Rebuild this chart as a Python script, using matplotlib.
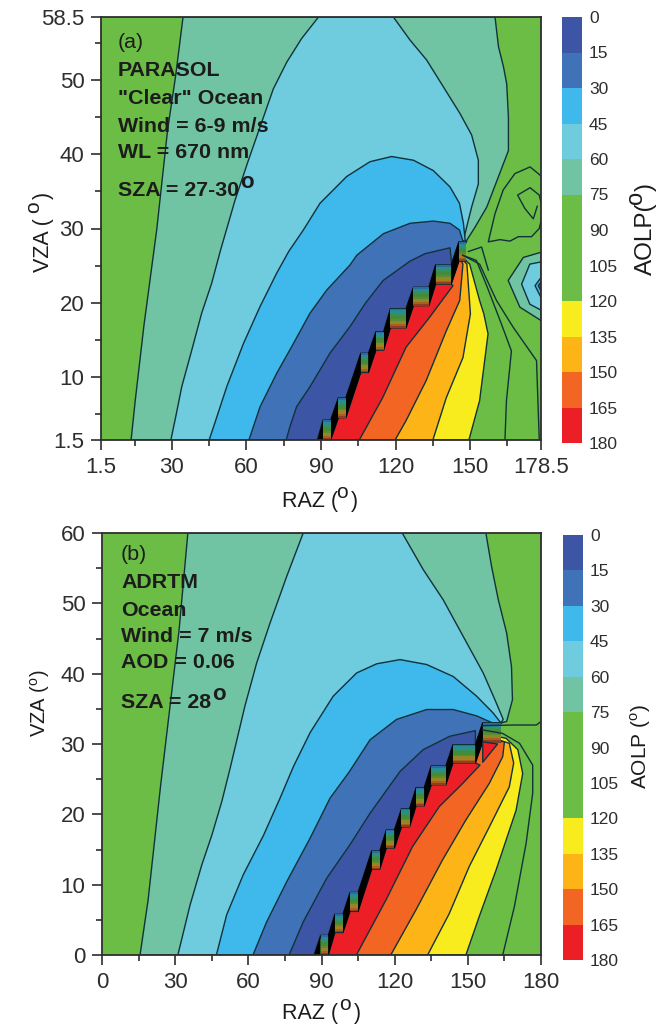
import matplotlib
matplotlib.use('Agg')
import matplotlib.pyplot as plt

W, H = 660, 1027

plt.rcParams['font.family'] = ['Liberation Sans', 'DejaVu Sans']
plt.rcParams['mathtext.fontset'] = 'custom'
plt.rcParams['mathtext.rm'] = 'Liberation Sans'

# colours of the 15 degree AOLP bins
levels = [0, 15, 30, 45, 60, 75, 90, 105, 120, 135, 150, 165, 180]
colors = ['#3d55a5', '#4072b8', '#3fb8ec', '#6fcbde', '#70c4a4', '#6cbd45', '#6cbd45',
          '#6cbd45', '#f8ec1e', '#fdb416', '#f26522', '#ed1f26']
# the same bins where the contour lines pile up and darken them
step_cols = ['#2a6a9c', '#258a9e', '#2b8f86', '#378f5c', '#3f8c3f', '#4a8a35', '#5f8a30', '#8a8a28', '#a87f20',
             '#a85f20', '#8f3f1c']
line_col = '#12323a'

# panel (a), contour lines as (RAZ, VZA)
a_teal_left = [(13.6, 1.5), (15.3, 6.9), (18.8, 17), (23.9, 29.8), (28.3, 43.3), (31.5, 50.5), (34.5, 58.5)]
a_teal_right = [(160, 58.5), (161.4, 54.5), (163.4, 51.8), (164.7, 49.5), (165.4, 45), (165.4, 40.5), (161.4, 37),
                (156.7, 32.9), (152, 30.2), (148.6, 28.4)]
a_lb_left = [(29.6, 1.5), (31.6, 4.7), (34, 8.7), (38, 13.6), (42, 18.6), (46, 22.6), (49.6, 27.1), (55.4, 33.8),
             (60.8, 39.2), (65.5, 43.7), (70.8, 48.8), (76.2, 52.4), (82.2, 55.6), (89, 58.5)]
a_lb_right = [(119.1, 58.5), (125.8, 55.4), (132.5, 52.7), (139.2, 49.1), (145.9, 45.5), (150.6, 42.6), (153.3, 39.2),
              (153.3, 36), (150.6, 32.9), (148.6, 30.2), (147.3, 28.4)]
a_blue = [(45, 1.5), (47.3, 3.8), (52.1, 8.7), (58.8, 14.5), (65.5, 19.5), (72.2, 24), (77, 26.9), (82.9, 29.8),
          (89.6, 33.4), (100.3, 37), (109.7, 39), (118.4, 39.7), (127.2, 39.2), (135.2, 37.8), (141.9, 35.6),
          (145.7, 33.4), (147.3, 30.7), (148, 28.4)]
a_mid = [(61, 1.5), (65.5, 6), (72.2, 10.5), (78.9, 14.5), (85.6, 18.6), (92.3, 21.7), (101.7, 25.1), (104.4, 26.4),
         (115.1, 29.3), (125.8, 30.7), (135.2, 31), (141.9, 30.7), (145.7, 29.8), (147, 28.4)]
a_dark = [(76, 1.5), (77.5, 3.3), (80.2, 6), (85.6, 8.7), (93.6, 13.2), (101.7, 16.8), (108, 20), (115, 23),
          (125.8, 25.6), (131.8, 26.6), (141.9, 27.4), (142.6, 25.1)]
a_yellow = [(149.5, 1.5), (153.8, 6.8), (157.2, 15.8), (155.5, 18.5), (153.8, 20.3), (149.8, 25.2), (145.8, 26.4)]
a_lorange = [(135, 1.5), (140.4, 7.2), (147.1, 12.6), (150.1, 18.5), (148.7, 25.2), (145.8, 26.2)]
a_orange = [(119.8, 1.5), (124.2, 4.1), (132.3, 9.5), (140.4, 16.2), (145.8, 20.3), (147.1, 25.2), (145.8, 26.1)]
a_red = [(105.4, 1.5), (114.8, 7.2), (124.2, 14), (133.6, 18), (143.1, 22.3)]
a_green_lines = [
    [(164, 1.5), (164.6, 6.8), (166.6, 13.5), (162.5, 17.2), (157, 22), (152.5, 25.7), (147, 26.4)],
    [(177.8, 1.5), (176.7, 12.2), (167.3, 16.7), (160.6, 20.3), (153.8, 25.2), (147, 26.4)],
    [(149.3, 26.9), (154.6, 27.5), (157.3, 24.4)],
    [(178.5, 37), (178.1, 37.2), (174.1, 38.3), (168, 37.4), (163.3, 35.2), (160, 32), (157.3, 28.2), (162, 28.5),
     (166, 28.3), (169.4, 28.9), (174.7, 28.9), (177.8, 30), (178.5, 31)],
    [(178.5, 33.5), (177.8, 34.5), (174.1, 35.5), (169.1, 34.5), (172, 32.7), (175.4, 31.3), (177, 33)],
]
a_ring_teal = [(178.5, 26.8), (171.4, 26.1), (165.3, 23), (170, 19.4), (178.5, 17.6)]
a_ring_lb = [(178.5, 25.5), (174, 25.2), (170.7, 22.5), (174, 19.8), (178.5, 19)]
a_ring_blue = [(178.5, 23.4), (176.1, 22.3), (178.5, 20.7)]
a_ring_dark = [(178.5, 22.8), (177.4, 22.3), (178.5, 21.6)]
a_rings = [(a_ring_teal, colors[4]), (a_ring_lb, colors[3]), (a_ring_blue, colors[2]), (a_ring_dark, colors[1])]
a_stair_start = (88.5, 1.5)
# left, right, top, bottom of the steps where all the contours collapse
a_steps = [(90.8, 93.9, 4.2, 1.5), (97, 100, 7.2, 4.5), (106, 109.1, 13.2, 10.6), (112.1, 115.2, 16.1, 13.6),
           (117.9, 124.2, 19.2, 16.6), (127.2, 133.4, 22.1, 19.6), (136.1, 142.4, 25.1, 22.5),
           (145.5, 148.5, 28.2, 25.6)]
a_xticks = [1.5, 30, 60, 90, 120, 150, 178.5]
a_xlabels = ['1.5', '30', '60', '90', '120', '150', '178.5']
a_yticks = [1.5, 10, 20, 30, 40, 50, 58.5]
a_ylabels = ['1.5', '10', '20', '30', '40', '50', '58.5']

# panel (b)
b_teal_left = [(15.6, 0), (18.9, 7.8), (24, 24), (31.6, 46.2), (35.2, 60)]
b_teal_right = [(157.4, 60), (159.7, 55.3), (162.5, 50.5), (165.9, 45.8), (167.9, 41), (168.3, 36.3), (165.9, 33.2)]
b_lb_left = [(31.1, 0), (36.1, 7.1), (40.9, 12.8), (45, 17), (49.1, 21.8), (52.5, 26.5), (58.6, 35.4), (63.4, 41.5),
             (68.9, 47.2), (75.7, 53.8), (82.5, 60)]
b_lb_right = [(123.1, 60), (131.7, 54.8), (139.9, 50.5), (148.1, 45.3), (156.3, 40.1), (161.1, 36.3), (164.5, 33.5)]
b_blue = [(46.9, 0), (51.1, 5.7), (57.9, 11.4), (66.2, 17), (73, 22.3), (78.5, 26.8), (85.3, 31.6), (94.8, 36.8),
          (104.4, 40.1), (112.6, 41.4), (122.2, 42), (133.1, 41.3), (144, 39.6), (153.6, 36.8), (160.4, 34.4),
          (163.1, 33.2)]
b_mid = [(61.9, 0), (67.5, 4.7), (75.7, 10.4), (85.3, 16.6), (93.5, 22.3), (101.3, 26), (109.9, 30.6), (120.8, 33.5),
         (133.1, 34.9), (144, 34.9), (153.6, 34), (160.1, 33)]
b_dark = [(76.7, 0), (82.5, 4.7), (92.1, 10.9), (101.7, 15.7), (110, 20.2), (122.2, 26.1), (131.7, 29.2), (142.6, 31.1),
          (153.1, 31.9), (153.1, 29.9)]
b_yellow = [(149.2, 0), (154.7, 5.5), (161.6, 12.1), (169.8, 20.6), (172.5, 25.8), (170.5, 29.2), (165.7, 30.8),
            (156.1, 31.5)]
b_lorange = [(133.5, 0), (142.4, 5.9), (150.6, 12.6), (158.8, 18.2), (167, 23.9), (168.8, 27.3), (167, 30.1),
             (156.1, 31.3)]
b_orange = [(118.4, 0), (128.7, 6.4), (139.6, 13.5), (149.2, 19.2), (158.8, 24.4), (164.3, 28.2), (165, 30.3),
            (156.1, 31)]
b_red = [(104.3, 0), (116.4, 7.8), (127.3, 15.4), (138.3, 21.1), (147.9, 24.4), (155, 27)]
b_red_tip = [(156.1, 30.3), (162.2, 30), (156.1, 27.4)]
b_green_lines = [
    [(164.3, 0), (169.1, 6.9), (173.9, 15.9), (176.6, 23), (176.6, 27), (171.2, 30.1), (164.3, 31.5), (156.1, 32)],
    [(156.1, 32.6), (168.3, 32.7), (178.1, 32.7), (180, 33.2)],
]
b_stair_start = (86.9, 0)
b_steps = [(89.6, 92.8, 2.8, 0), (95.5, 98.8, 5.8, 3.2), (101.7, 105, 8.9, 6.2), (110.6, 113.9, 14.8, 12.2),
           (116.6, 119.9, 17.8, 15.2), (122.8, 126.1, 20.8, 18.2), (128.8, 132.1, 23.8, 21.2), (135, 141, 26.9, 24.2),
           (143.9, 153.1, 29.9, 27.3), (156.1, 163.6, 33, 30.3)]
b_xticks = [0, 30, 60, 90, 120, 150, 180]
b_yticks = [0, 10, 20, 30, 40, 50, 60]


def px_axes(left, top, right, bottom):
    return fig.add_axes([left / W, 1 - bottom / H, (right - left) / W, (bottom - top) / H])


def px_text(x, y, s, **kw):
    kw.setdefault('va', 'center')
    kw.setdefault('color', '#1c1c1c')
    fig.text(x / W, 1 - y / H, s, zorder=5, **kw)


def upper_profile(start, steps):
    pts = [start]
    for s in steps:
        pts += [(s[0], s[2]), (s[1], s[2])]
    return pts


def lower_profile(steps):
    pts = []
    for s in steps:
        if pts:
            pts.append((s[0], s[3]))
        pts.append((s[1], s[3]))
    return pts


def patch(ax, pts, color):
    ax.fill([p[0] for p in pts], [p[1] for p in pts], facecolor=color, edgecolor=line_col, lw=1.0, joinstyle='round')


def draw_panel(ax, c, start, steps):
    up = upper_profile(start, steps)
    low = lower_profile(steps)
    ax.set_facecolor(colors[5])
    # nested fills, outermost first
    patch(ax, c['teal_left'] + c['teal_right'] + up[::-1], colors[4])
    patch(ax, c['lb_left'] + c['lb_right'] + up[::-1], colors[3])
    patch(ax, c['blue'] + up[::-1], colors[2])
    patch(ax, c['mid'] + up[::-1], colors[1])
    patch(ax, c['dark'] + up[::-1], colors[0])
    patch(ax, c['yellow'] + low[::-1], colors[8])
    patch(ax, c['lorange'] + low[::-1], colors[9])
    patch(ax, c['orange'] + low[::-1], colors[10])
    patch(ax, c['red'] + lower_profile(steps[:-1])[::-1], colors[11])
    for line in c['green']:
        ax.plot([p[0] for p in line], [p[1] for p in line], color=line_col, lw=1.0)

    # black wedges between the steps
    ax.fill([start[0], steps[0][0], steps[0][0]], [start[1], steps[0][2], steps[0][3]], color='black', lw=0)
    for s0, s1 in zip(steps[:-1], steps[1:]):
        ax.fill([s0[1], s1[0], s1[0], s0[1]], [s0[2], s1[2], s1[3], s0[3]], color='black', lw=0.5)
    # steps hold all the colour bins squeezed together
    for s in steps:
        dy = (s[2] - s[3]) / len(step_cols)
        for i, col in enumerate(step_cols):
            ax.fill_between([s[0], s[1]], s[2] - i * dy, s[2] - (i + 1) * dy, color=col, lw=0)


def style_axes(ax, xlim, ylim, xt, xl, yt, yl, xminor, yminor):
    ax.set_xlim(xlim)
    ax.set_ylim(ylim)
    ax.set_xticks(xt, xl)
    ax.set_yticks(yt, yl)
    ax.set_xticks(xminor, minor=True)
    ax.set_yticks(yminor, minor=True)
    ax.tick_params(which='major', length=7, width=1.2, labelsize=16, colors='#2e2e2e', pad=5)
    ax.tick_params(which='minor', length=4, width=1.2, colors='#2e2e2e')
    for sp in ax.spines.values():
        sp.set_linewidth(1.3)
        sp.set_color('#2e2e2e')
        sp.set_zorder(6)


def colorbar(left, top, right, bottom):
    cax = px_axes(left, top, right, bottom)
    cax.barh(levels[:-1], 15, height=15, align='edge', color=colors, lw=0)
    cax.set_xlim(0, 15)
    cax.set_ylim(180, 0)
    cax.set_xticks([])
    cax.yaxis.tick_right()
    cax.set_yticks(levels, [str(v) for v in levels])
    cax.tick_params(length=0, labelsize=12.5, colors='#2e2e2e', pad=5)
    for sp in cax.spines.values():
        sp.set_visible(False)


fig = plt.figure(figsize=(W / 100, H / 100), dpi=100)

ax_a = px_axes(101, 17, 541, 440)
a_curves = {'teal_left': a_teal_left, 'teal_right': a_teal_right, 'lb_left': a_lb_left, 'lb_right': a_lb_right,
            'blue': a_blue, 'mid': a_mid, 'dark': a_dark, 'yellow': a_yellow, 'lorange': a_lorange,
            'orange': a_orange, 'red': a_red, 'green': a_green_lines}
draw_panel(ax_a, a_curves, a_stair_start, a_steps)
for ring, col in a_rings:
    patch(ax_a, ring, col)
style_axes(ax_a, (1.5, 178.5), (1.5, 58.5), a_xticks, a_xlabels, a_yticks, a_ylabels,
           [15, 45, 75, 105, 135, 165], [5, 15, 25, 35, 45, 55])

ax_b = px_axes(102, 533, 541, 955)
b_curves = {'teal_left': b_teal_left, 'teal_right': b_teal_right, 'lb_left': b_lb_left, 'lb_right': b_lb_right,
            'blue': b_blue, 'mid': b_mid, 'dark': b_dark, 'yellow': b_yellow, 'lorange': b_lorange,
            'orange': b_orange, 'red': b_red, 'green': b_green_lines}
draw_panel(ax_b, b_curves, b_stair_start, b_steps)
patch(ax_b, b_red_tip, colors[11])
style_axes(ax_b, (0, 180), (0, 60), b_xticks, [str(v) for v in b_xticks], b_yticks, [str(v) for v in b_yticks],
           [15, 45, 75, 105, 135, 165], [5, 15, 25, 35, 45, 55])

colorbar(562, 17, 582, 443)
colorbar(563, 535, 583, 960)

# axis labels, the raised o is its own text
px_text(282, 502, 'RAZ (', fontsize=15.5)
px_text(342, 493, 'o', fontsize=15, ha='center')
px_text(351, 502, ')', fontsize=15.5)
px_text(282, 1014, 'RAZ (', fontsize=15.5)
px_text(345, 1005, 'o', fontsize=15, ha='center')
px_text(354, 1014, ')', fontsize=15.5)
px_text(43, 272, 'VZA (', fontsize=15.5, rotation=90, ha='center', va='bottom')
px_text(34, 207, 'o', fontsize=15, rotation=90, ha='center')
px_text(43, 199, ')', fontsize=15.5, rotation=90, ha='center', va='bottom')
px_text(40, 703, 'VZA ($^{\\mathrm{o}}$)', fontsize=14.5, rotation=90, ha='center')
px_text(646, 275, 'AOLP(', fontsize=17.5, rotation=90, ha='center', va='bottom')
px_text(636, 197, 'o', fontsize=17, rotation=90, ha='center')
px_text(646, 191, ')', fontsize=17.5, rotation=90, ha='center', va='bottom')
px_text(641, 746, 'AOLP ($^{\\mathrm{o}}$)', fontsize=15, rotation=90, ha='center')

# panel notes
px_text(118, 43, '(a)', fontsize=15.4)
notes_a = [(71, 'PARASOL'), (98, '"Clear" Ocean'), (126, 'Wind = 6-9 m/s'), (153, 'WL = 670 nm'), (191, 'SZA = 27-30')]
for y, s in notes_a:
    px_text(118, y, s, fontsize=15.4, fontweight='bold')
px_text(247, 183, 'o', fontsize=16, fontweight='bold', ha='center')

px_text(121, 555, '(b)', fontsize=15.4)
notes_b = [(582, 'ADRTM'), (610, 'Ocean'), (637, 'Wind = 7 m/s'), (663, 'AOD = 0.06'), (702, 'SZA = 28')]
for y, s in notes_b:
    px_text(121, y, s, fontsize=15.4, fontweight='bold')
px_text(219, 695, 'o', fontsize=16, fontweight='bold', ha='center')

fig.savefig('out.png', dpi=100)
